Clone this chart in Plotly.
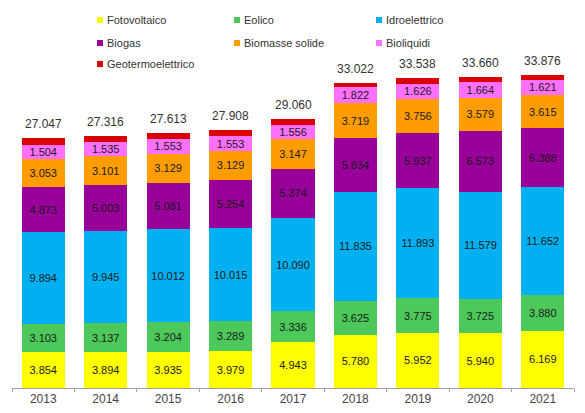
import plotly.graph_objects as go

years = ["2013", "2014", "2015", "2016", "2017", "2018", "2019", "2020", "2021"]
fotovoltaico = [3854, 3894, 3935, 3979, 4943, 5780, 5952, 5940, 6169]
eolico = [3103, 3137, 3204, 3289, 3336, 3625, 3775, 3725, 3880]
idroelettrico = [9894, 9945, 10012, 10015, 10090, 11835, 11893, 11579, 11652]
biogas = [4873, 5003, 5081, 5254, 5374, 5834, 5937, 6573, 6388]
biomasse_solide = [3053, 3101, 3129, 3129, 3147, 3719, 3756, 3579, 3615]
bioliquidi = [1504, 1535, 1553, 1553, 1556, 1822, 1626, 1664, 1621]
geotermoelettrico = [766, 701, 699, 689, 614, 407, 599, 600, 551]
totali = [27047, 27316, 27613, 27908, 29060, 33022, 33538, 33660, 33876]

series = [
    ("Fotovoltaico", fotovoltaico, "#FFFF00", True),
    ("Eolico", eolico, "#4CC95A", True),
    ("Idroelettrico", idroelettrico, "#00B0F0", True),
    ("Biogas", biogas, "#990099", True),
    ("Biomasse solide", biomasse_solide, "#FF9D00", True),
    ("Bioliquidi", bioliquidi, "#FF70FF", True),
    ("Geotermoelettrico", geotermoelettrico, "#D80000", False),
]

def fmt(v):
    return f"{v:,}".replace(",", ".")

FONT = "Liberation Sans, Arial, sans-serif"
fig = go.Figure()
for name, vals, col, lab in series:
    fig.add_trace(go.Bar(
        x=years, y=vals, name=name, marker=dict(color=col, line=dict(width=0)),
        text=[fmt(v) for v in vals] if lab else None,
        textposition="inside" if lab else "none",
        insidetextanchor="middle",
        textfont=dict(family=FONT, size=11, color="#1a1a1a"),
        showlegend=False,
    ))

# plot area geometry in pixels
W, H = 585, 413
L, R, T, B = 12, 11, 0, 25
pw, ph = W - L - R, H - T - B

def px(x):
    return (x - L) / pw

def py(y):
    return (H - B - y) / ph

annotations = []
for i, tot in enumerate(totali):
    annotations.append(dict(x=i, y=tot, xref="x", yref="y", text=fmt(tot),
                            showarrow=False, yanchor="bottom", yshift=5,
                            font=dict(family=FONT, size=12, color="#333333")))

legend_pos = [(100, 20), (237, 20), (379, 20), (100, 43), (237, 43), (379, 43), (100, 64)]
shapes = []
for (name, vals, col, lab), (lx, ly) in zip(series, legend_pos):
    shapes.append(dict(type="rect", xref="paper", yref="paper",
                       x0=px(lx - 3), x1=px(lx + 3), y0=py(ly + 3), y1=py(ly - 3),
                       fillcolor=col, line=dict(width=0)))
    annotations.append(dict(xref="paper", yref="paper", x=px(lx + 5), y=py(ly),
                            xanchor="left", yanchor="middle", showarrow=False,
                            text=name, font=dict(family=FONT, size=11, color="#333333")))

fig.update_layout(
    barmode="stack", bargap=0.31,
    width=W, height=H,
    margin=dict(l=L, r=R, t=T, b=B),
    plot_bgcolor="white", paper_bgcolor="white",
    uniformtext=dict(minsize=11, mode="show"),
    xaxis=dict(type="category", range=[-0.5, 8.5],
               showline=True, linecolor="#A0A0A0", linewidth=1,
               ticks="outside", tickson="boundaries", ticklen=3, tickcolor="#A0A0A0",
               tickfont=dict(family=FONT, size=12, color="#444444"),
               showgrid=False, fixedrange=True),
    yaxis=dict(visible=False, range=[0, 41980], showgrid=False, fixedrange=True),
    annotations=annotations, shapes=shapes,
    showlegend=False,
)

fig.write_html("out.html")
